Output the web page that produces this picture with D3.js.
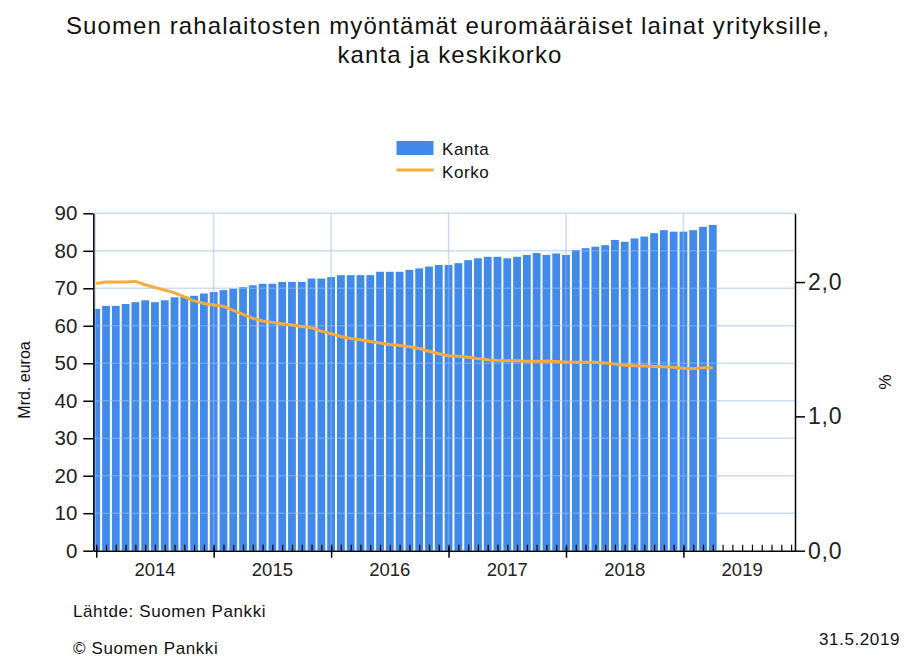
<!DOCTYPE html>
<html>
<head>
<meta charset="utf-8">
<script src="https://cdn.jsdelivr.net/npm/d3@7"></script>
<style>
  body { margin: 0; background: #fff; }
  svg { display: block; font-family: "Liberation Sans", Arial, sans-serif; }
  .grid line { stroke: rgba(150,190,240,0.5); stroke-width: 1.5; }
  .axis path, .axis line { stroke: #000; stroke-width: 1.5; }
  .axis.minor line { stroke-width: 1.2; }
  .axis text { fill: #222; }
</style>
</head>
<body>
<svg width="904" height="659"></svg>
<script>
// Kanta (mrd. euroa), kuukausittain 1/2014 - 4/2019
var kanta = [64.5, 65.3, 65.3, 65.8, 66.3, 66.8, 66.3, 66.8, 67.6, 67.8, 68.0, 68.6,
             69.0, 69.5, 69.9, 70.3, 70.8, 71.2, 71.2, 71.7, 71.7, 71.7, 72.6, 72.6,
             73.0, 73.5, 73.5, 73.5, 73.5, 74.4, 74.4, 74.4, 74.9, 75.3, 75.8, 76.2,
             76.2, 76.7, 77.5, 78.0, 78.4, 78.4, 78.0, 78.4, 78.9, 79.4, 78.9, 79.3,
             78.9, 80.2, 80.7, 81.1, 81.5, 82.9, 82.4, 83.3, 83.8, 84.7, 85.5, 85.1,
             85.1, 85.5, 86.4, 86.9];
// Korko (%)
var korko = [1.99, 2.00, 2.00, 2.00, 2.005, 1.98, 1.96, 1.94, 1.92, 1.89, 1.86, 1.84,
             1.83, 1.82, 1.79, 1.76, 1.73, 1.71, 1.70, 1.69, 1.68, 1.67, 1.66, 1.635,
             1.615, 1.595, 1.58, 1.57, 1.557, 1.546, 1.535, 1.527, 1.518, 1.505, 1.485, 1.466,
             1.452, 1.447, 1.44, 1.43, 1.421, 1.417, 1.415, 1.415, 1.41, 1.41, 1.412, 1.409,
             1.405, 1.403, 1.403, 1.403, 1.398, 1.389, 1.381, 1.377, 1.375, 1.372, 1.369, 1.366,
             1.358, 1.355, 1.363, 1.363];
var years = [2014, 2015, 2016, 2017, 2018, 2019];
var leftTicks = [0, 10, 20, 30, 40, 50, 60, 70, 80, 90];
var rightTicks = [0, 1, 2];

(function () {
  var svg = d3.select("svg");
  var pl = 93.3, pr = 795, pt = 213.3, pb = 550.7;

  var x = d3.scaleLinear().domain([-0.3, 71.4]).range([pl, pr]);
  var y = d3.scaleLinear().domain([0, 90]).range([pb, pt]);
  var y2 = d3.scaleLinear().domain([0, 2.512]).range([pb, pt]);

  // title
  var title = svg.append("text")
      .attr("text-anchor", "middle")
      .attr("font-size", 24).attr("letter-spacing", 1.1).attr("fill", "#111");
  title.append("tspan").attr("x", 448).attr("y", 34)
      .text("Suomen rahalaitosten myöntämät euromääräiset lainat yrityksille,");
  title.append("tspan").attr("x", 450).attr("y", 63)
      .text("kanta ja keskikorko");

  // legend
  svg.append("rect").attr("x", 396.5).attr("y", 141).attr("width", 37).attr("height", 14)
      .attr("fill", "#418aea");
  svg.append("text").attr("x", 442).attr("y", 155).attr("font-size", 17).attr("letter-spacing", 0.6)
      .attr("fill", "#111").text("Kanta");
  svg.append("line").attr("x1", 396.5).attr("x2", 433.5).attr("y1", 170).attr("y2", 170)
      .attr("stroke", "#f9ab3c").attr("stroke-width", 3);
  svg.append("text").attr("x", 442).attr("y", 178).attr("font-size", 17).attr("letter-spacing", 0.6)
      .attr("fill", "#111").text("Korko");

  svg.append("clipPath").attr("id", "plot")
    .append("rect").attr("x", pl).attr("y", pt).attr("width", pr - pl).attr("height", pb - pt);

  // bars
  svg.append("g").attr("clip-path", "url(#plot)")
    .selectAll("rect").data(kanta).enter().append("rect")
      .attr("x", function(d, i) { return x(i) - 3.9; })
      .attr("width", 7.8)
      .attr("y", function(d) { return y(d); })
      .attr("height", function(d) { return pb - y(d); })
      .attr("fill", "#418aea");

  // grid (over bars, semi-transparent)
  var grid = svg.append("g").attr("class", "grid");
  grid.selectAll("line.h").data(leftTicks.slice(1)).enter().append("line")
      .attr("class", "h")
      .attr("x1", pl).attr("x2", pr)
      .attr("y1", function(d) { return y(d); }).attr("y2", function(d) { return y(d); });
  grid.selectAll("line.v").data(years.slice(1)).enter().append("line")
      .attr("class", "v")
      .attr("x1", function(d) { return x((d - 2014) * 12); })
      .attr("x2", function(d) { return x((d - 2014) * 12); })
      .attr("y1", pt).attr("y2", pb);
  grid.append("line").attr("x1", pl + 2).attr("x2", pl + 2).attr("y1", pt).attr("y2", pb);

  // korko line
  var line = d3.line()
      .x(function(d, i) { return x(i); })
      .y(function(d) { return y2(d); });
  svg.append("path").datum(korko)
      .attr("d", line)
      .attr("fill", "none")
      .attr("stroke", "#f9ab3c")
      .attr("stroke-width", 3)
      .attr("stroke-linejoin", "round");

  // left axis
  svg.append("g").attr("class", "axis")
      .attr("transform", "translate(" + pl + ",0)")
      .call(d3.axisLeft(y).tickValues(leftTicks).tickSizeInner(10).tickSizeOuter(0).tickPadding(6))
      .selectAll("text").attr("font-size", 20.5);

  // right axis
  svg.append("g").attr("class", "axis")
      .attr("transform", "translate(" + pr + ",0)")
      .call(d3.axisRight(y2).tickValues(rightTicks).tickSizeInner(10).tickSizeOuter(0).tickPadding(3)
        .tickFormat(function(d) { return d3.format(".1f")(d).replace(".", ","); }))
      .selectAll("text").attr("font-size", 23).attr("letter-spacing", 0.8);

  // bottom axis: monthly minor ticks up, yearly major ticks crossing
  var months = d3.range(0, 72);
  svg.append("g").attr("class", "axis minor")
      .attr("transform", "translate(0," + pb + ")")
      .call(d3.axisBottom(x).tickValues(months).tickSizeInner(-6).tickSizeOuter(0).tickFormat(""));
  var major = svg.append("g").attr("class", "axis")
      .attr("transform", "translate(0," + pb + ")")
      .call(d3.axisBottom(x).tickValues(years.map(function(d) { return (d - 2014) * 12; }))
        .tickSizeInner(7).tickSizeOuter(0).tickFormat(""));
  major.select("path").remove();
  major.selectAll("line").attr("y1", -4);
  svg.append("g").selectAll("text").data(years).enter().append("text")
      .attr("x", function(d) { return x((d - 2014) * 12 + 6); })
      .attr("y", 576)
      .attr("text-anchor", "middle")
      .attr("font-size", 18.5).attr("fill", "#222")
      .text(function(d) { return d; });

  // axis titles
  svg.append("text").attr("transform", "translate(30,380) rotate(-90)")
      .attr("text-anchor", "middle").attr("font-size", 16).attr("fill", "#111")
      .text("Mrd. euroa");
  svg.append("text").attr("transform", "translate(879,382) rotate(90)")
      .attr("text-anchor", "middle").attr("font-size", 17).attr("fill", "#111")
      .text("%");

  // footer
  svg.append("text").attr("x", 73).attr("y", 617).attr("font-size", 17).attr("letter-spacing", 0.6)
      .attr("fill", "#111").text("Lähtde: Suomen Pankki");
  svg.append("text").attr("x", 73).attr("y", 654).attr("font-size", 17).attr("letter-spacing", 0.6)
      .attr("fill", "#111").text("© Suomen Pankki");
  svg.append("text").attr("x", 900).attr("y", 645).attr("text-anchor", "end")
      .attr("font-size", 17).attr("letter-spacing", 0.6).attr("fill", "#111")
      .text("31.5.2019");
})();
</script>
</body>
</html>
